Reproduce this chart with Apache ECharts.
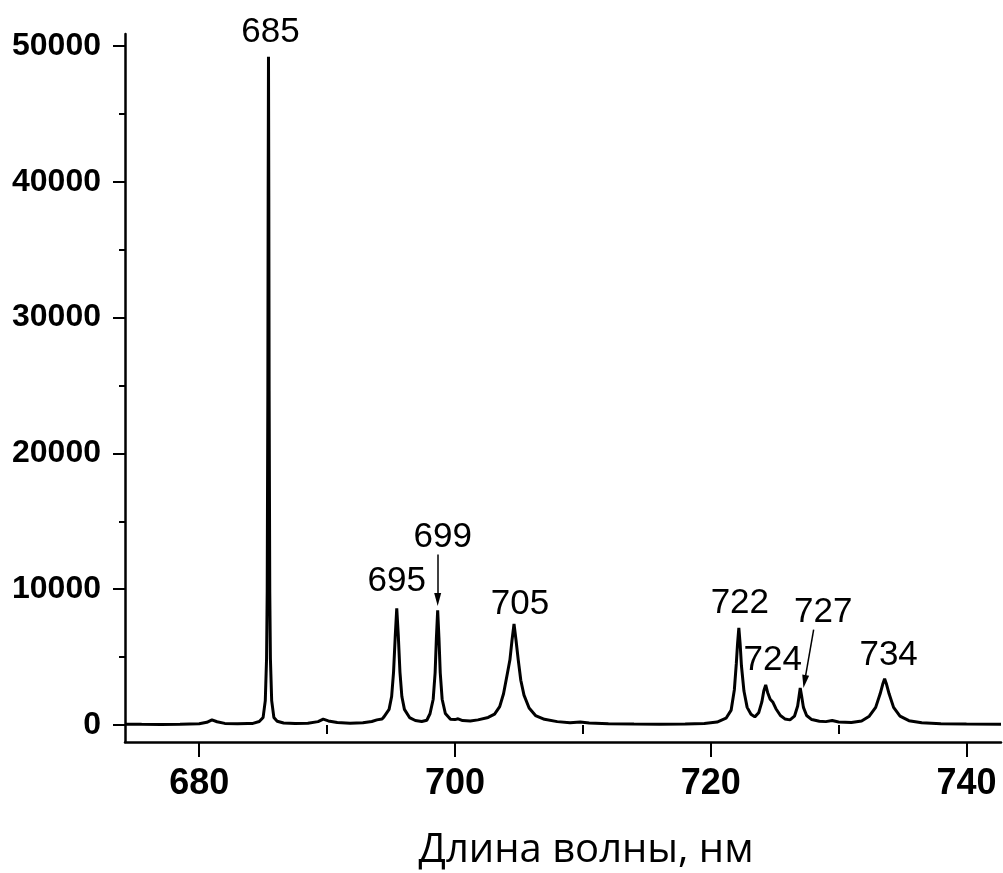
<!DOCTYPE html>
<html>
<head>
<meta charset="utf-8">
<script src="https://cdn.jsdelivr.net/npm/echarts@6/dist/echarts.min.js"></script>
<style>
  html, body { margin: 0; padding: 0; background: #fff; }
  #chart { width: 1003px; height: 873px; }
</style>
</head>
<body>
<div id="chart"></div>
<script>
// спектр: длина волны, нм
const wavelength = [
  674.2, 675.5, 677, 678.5, 680.0, 680.6, 681.0, 681.4, 682.0, 683.0, 683.8,
  684.2, 684.7, 685.0, 685.17, 685.27, 685.32, 685.37, 685.395, 685.42, 685.445, 685.47, 685.52, 685.57, 685.67, 685.84, 686.1,
  686.6, 687.5, 688.5, 689.3, 689.7, 690.1, 690.8, 691.8, 692.8, 693.5, 693.9, 694.3,
  694.45, 694.85, 695.05, 695.2, 695.33, 695.45, 695.57, 695.7, 695.85, 696.05, 696.45, 696.9,
  697.4, 697.8, 698.05, 698.3, 698.45, 698.55, 698.65, 698.75, 698.85, 699.0, 699.25, 699.65,
  700.0, 700.25, 700.6, 701.2, 701.8, 702.6, 703.1, 703.5, 703.8, 704.1, 704.3, 704.47, 704.62,
  704.77, 704.95, 705.15, 705.4, 705.8, 706.3, 707, 708, 709, 709.8, 710.5, 712, 714, 716, 718,
  719.5, 720.5, 721.2, 721.6, 721.85, 722.0, 722.1, 722.2, 722.3, 722.4, 722.6, 722.85, 723.15,
  723.45, 723.75, 724.0, 724.15, 724.3, 724.45, 724.65, 724.85, 725.1, 725.45, 725.8, 726.2,
  726.55, 726.8, 726.92, 727.0, 727.1, 727.25, 727.5, 727.9, 728.5, 729.0, 729.5, 730.0, 731.0,
  731.8, 732.4, 732.9, 733.25, 733.45, 733.6, 733.75, 733.95, 734.3, 734.8, 735.5, 736.5, 738, 740, 742.7
];
// интенсивность, отн. ед.
const intensity = [
  60, 50, 40, 60, 90, 200, 380, 240, 120, 90, 110,
  120, 260, 560, 1800, 4900, 9800, 24600, 39000, 49200, 39000, 24600, 9800, 4900, 1800, 560, 280,
  150, 110, 130, 250, 430, 300, 180, 130, 170, 260, 380, 450,
  600, 1150, 2100, 3900, 6500, 8600, 6600, 3900, 2100, 1150, 550, 330,
  260, 350, 830, 1900, 3850, 6400, 8450, 6400, 3850, 1900, 850, 420,
  400, 460, 330, 300, 380, 560, 800, 1350, 2300, 3800, 4800, 6300, 7450,
  6300, 4800, 3300, 2200, 1250, 700, 420, 250, 170, 220, 150, 90, 70, 60, 80,
  120, 220, 500, 1100, 2600, 4500, 6000, 7150, 6000, 4400, 2500, 1300, 800,
  600, 900, 1700, 2500, 2950, 2400, 1900, 1700, 1200, 700, 450, 380,
  650, 1400, 2200, 2720, 2200, 1300, 700, 400, 280, 250, 330, 220, 180,
  300, 650, 1300, 2300, 3000, 3400, 3000, 2300, 1300, 650, 320, 160, 90, 70, 60
];

// подписи пиков
const peakNames = ['685', '695', '699', '705', '722', '724', '727', '734'];
const peakPos = [
  [685.42, 49200], [695.45, 8600], [698.65, 8450], [704.62, 7450],
  [722.2, 7150], [724.3, 2950], [727.0, 2720], [733.6, 3400]
];
// стрелки к пикам 699 и 727
const arrows = [
  [[698.65, 12550], [698.65, 9250]],
  [[728.05, 7030], [727.34, 3200]]
];

const xMajor = [680, 700, 720, 740];
const xMinor = [690, 710, 730];
const yMajor = [0, 10000, 20000, 30000, 40000, 50000];
const yMinor = [5000, 15000, 25000, 35000, 45000];

const xMin = 674.2, xMax = 742.7;
const yMin = -1250, yMax = 50880;

// смещения подписей от вершины пика, px
const labelOffsets = [[2, -24], [0, -27], [5, -73], [6, -19], [1, -25], [7, -25], [23, -76], [4, -24]];

const chart = echarts.init(document.getElementById('chart'));
const axisFont = 'Liberation Sans, Arial, sans-serif';
const arrowHead = 'path://M5,0 L10,16 L0,16 Z';

chart.setOption({
  animation: false,
  backgroundColor: '#fff',
  grid: { left: 125, right: 2, top: 34, bottom: 131, outerBoundsMode: 'none' },
  xAxis: [
    {
      type: 'value', min: xMin, max: xMax,
      axisLine: { show: true, onZero: false, lineStyle: { color: '#000', width: 2.5 } },
      axisTick: { show: true, customValues: xMajor, length: 15, lineStyle: { color: '#000', width: 2 } },
      axisLabel: {
        customValues: xMajor, color: '#000', fontSize: 36, fontWeight: 'bold',
        fontFamily: axisFont, margin: 24, formatter: v => String(v)
      },
      splitLine: { show: false }
    },
    {
      type: 'value', min: xMin, max: xMax, position: 'bottom',
      axisLine: { show: false },
      axisTick: { show: true, customValues: xMinor, length: 9, lineStyle: { color: '#000', width: 2 } },
      axisLabel: { show: false },
      splitLine: { show: false }
    }
  ],
  yAxis: [
    {
      type: 'value', min: yMin, max: yMax,
      axisLine: { show: true, onZero: false, lineStyle: { color: '#000', width: 2.5 } },
      axisTick: { show: true, customValues: yMajor, length: 12, lineStyle: { color: '#000', width: 2 } },
      axisLabel: {
        customValues: yMajor, color: '#000', fontSize: 32, fontWeight: 'bold',
        fontFamily: axisFont, margin: 24, formatter: v => String(v)
      },
      splitLine: { show: false }
    },
    {
      type: 'value', min: yMin, max: yMax, position: 'left',
      axisLine: { show: false },
      axisTick: { show: true, customValues: yMinor, length: 6, lineStyle: { color: '#000', width: 2 } },
      axisLabel: { show: false },
      splitLine: { show: false }
    }
  ],
  series: [
    {
      type: 'line',
      data: wavelength.map((w, i) => [w, intensity[i]]),
      showSymbol: false,
      symbol: 'none',
      lineStyle: { color: '#000', width: 3 },
      clip: false,
      silent: true,
      markPoint: {
        symbol: 'circle',
        symbolSize: 0,
        silent: true,
        label: {
          show: true, position: 'inside', color: '#000',
          fontSize: 35, fontFamily: axisFont,
          formatter: p => p.name
        },
        data: peakPos.map((p, i) => ({
          name: peakNames[i], coord: p,
          label: { offset: labelOffsets[i] }
        }))
      },
      markLine: {
        silent: true,
        symbol: ['none', arrowHead],
        symbolSize: 12,
        label: { show: false },
        lineStyle: { color: '#000', width: 1.5, type: 'solid' },
        data: arrows.map(a => [
          { coord: a[0], symbol: 'none' },
          { coord: a[1], symbol: arrowHead, symbolSize: [7, 13], itemStyle: { color: '#000' } }
        ])
      }
    }
  ],
  graphic: [
    {
      type: 'text', x: 586, y: 851,
      style: {
        text: 'Длина волны, нм', fill: '#000',
        font: '40px "Open Sans", "Noto Sans", sans-serif',
        textAlign: 'center', textVerticalAlign: 'middle'
      }
    }
  ]
});
</script>
</body>
</html>
